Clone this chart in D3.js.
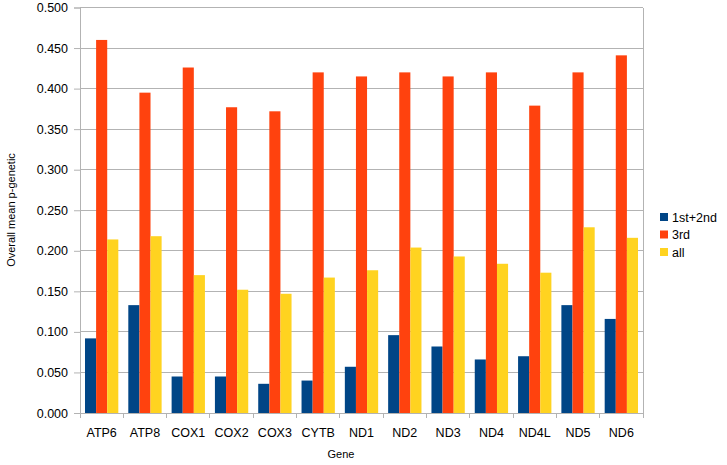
<!DOCTYPE html>
<html><head><meta charset="utf-8">
<script src="https://cdn.jsdelivr.net/npm/d3@7"></script>
<style>body{margin:0;background:#fff}svg{display:block;font-family:"Liberation Sans",Arial,sans-serif}</style>
</head><body><svg id="c" width="727" height="465"></svg>
<script>
const genes = ["ATP6","ATP8","COX1","COX2","COX3","CYTB","ND1","ND2","ND3","ND4","ND4L","ND5","ND6"];
const seriesNames = ["1st+2nd","3rd","all"];
const first2nd = [0.092,0.133,0.045,0.045,0.036,0.040,0.057,0.096,0.082,0.066,0.070,0.133,0.116];
const third = [0.460,0.395,0.426,0.377,0.372,0.420,0.415,0.420,0.415,0.420,0.379,0.420,0.441];
const allPos = [0.214,0.218,0.170,0.152,0.147,0.167,0.176,0.204,0.193,0.184,0.173,0.229,0.216];
const yTicks = [0,0.05,0.1,0.15,0.2,0.25,0.3,0.35,0.4,0.45,0.5];
const colors = ["#004586","#ff420e","#ffd320"];
const series = [first2nd, third, allPos];

const svg = d3.select("#c");
const L = 80, R = 643, T = 7.5, B = 413;
const x = d3.scaleBand().domain(genes).range([L, R]).paddingInner(0).paddingOuter(0);
const xi = d3.scaleBand().domain(seriesNames).range([0, x.bandwidth()]).paddingInner(0).paddingOuter(0.45);
const y = d3.scaleLinear().domain([0, 0.5]).range([B, T]);

// gridlines
svg.append("g").selectAll("line").data(yTicks).join("line")
  .attr("x1", L).attr("x2", R).attr("y1", d=>y(d)).attr("y2", d=>y(d))
  .attr("stroke", "#b3b3b3").attr("stroke-width", 1).attr("shape-rendering","crispEdges");
// right border
svg.append("line").attr("x1", R).attr("x2", R).attr("y1", T).attr("y2", B)
  .attr("stroke", "#b3b3b3").attr("shape-rendering","crispEdges");

// bars
const g = svg.append("g");
genes.forEach((gn, i) => {
  series.forEach((s, j) => {
    g.append("rect")
      .attr("x", x(gn) + xi(seriesNames[j]))
      .attr("y", y(s[i]))
      .attr("width", xi.bandwidth())
      .attr("height", y(0) - y(s[i]))
      .attr("fill", colors[j]);
  });
});

// y axis
const ya = svg.append("g").attr("transform", `translate(${L},0)`)
  .call(d3.axisLeft(y).tickValues(yTicks).tickFormat(d3.format(".3f")).tickSize(6).tickPadding(6));
ya.select(".domain").attr("stroke", "#b3b3b3");
ya.selectAll(".tick line").attr("stroke", "#b3b3b3");
ya.selectAll("text").attr("font-size", 12.5).attr("fill", "#000").style("font-family", "'Liberation Sans',Arial,sans-serif");

// x axis
const xa = svg.append("g").attr("transform", `translate(0,${B})`)
  .call(d3.axisBottom(x).tickSize(0).tickPadding(15));
xa.select(".domain").attr("stroke", "#b3b3b3").attr("d", `M${L},0.5H${R}`);
xa.selectAll("text").attr("font-size", 12.5).attr("fill", "#000").style("font-family", "'Liberation Sans',Arial,sans-serif");
const bounds = genes.map(gn => x(gn)).concat([R]);
svg.append("g").selectAll("line").data(bounds).join("line")
  .attr("x1", d=>d).attr("x2", d=>d).attr("y1", B).attr("y2", B+5)
  .attr("stroke", "#b3b3b3").attr("shape-rendering","crispEdges");

// axis titles
svg.append("text").attr("transform", "translate(15,210) rotate(-90)")
  .attr("text-anchor", "middle").attr("font-size", 11).attr("fill", "#000")
  .text("Overall mean p-genetic");
svg.append("text").attr("x", 341).attr("y", 458).attr("text-anchor", "middle")
  .attr("font-size", 11).attr("fill", "#000").text("Gene");

// legend
const lg = svg.append("g");
seriesNames.forEach((n, j) => {
  const cy = 217 + j * 17.5;
  lg.append("rect").attr("x", 660).attr("y", cy - 4).attr("width", 8).attr("height", 8).attr("fill", colors[j]);
  lg.append("text").attr("x", 672).attr("y", cy + 4.5).attr("font-size", 12.5).attr("fill", "#000").text(n);
});
</script></body></html>
